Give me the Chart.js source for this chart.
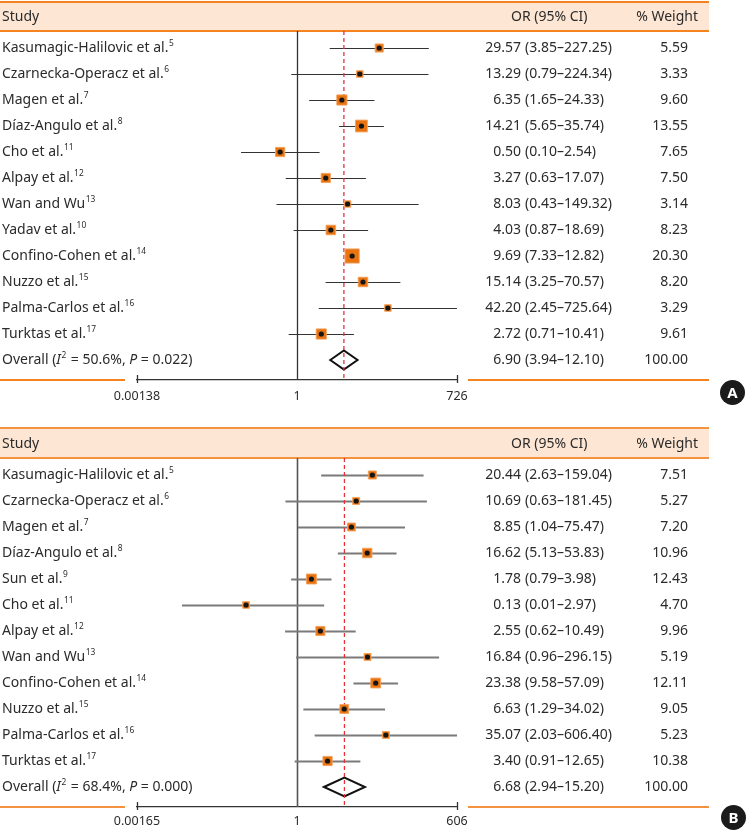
<!DOCTYPE html>
<html>
<head>
<meta charset="utf-8">
<script src="https://cdn.jsdelivr.net/npm/chart.js@4.4.1/dist/chart.umd.min.js"></script>
<style>
  html, body { margin: 0; padding: 0; background: #fff; }
  #wrap { position: relative; width: 747px; height: 833px; overflow: hidden; }
  canvas { position: absolute; left: 0; }
  #chartA { top: 0; }
  #chartB { top: 410px; }
  .badge { position: absolute; width: 25px; height: 25px; border-radius: 50%; background: #1b1b1b; color: #fff;
           font: bold 15px "Noto Sans", sans-serif; text-align: center; line-height: 25px; }
</style>
</head>
<body>
<div id="wrap">
  <canvas id="chartA" width="747" height="410"></canvas>
  <canvas id="chartB" width="747" height="423"></canvas>
  <div class="badge" style="left:720px;top:380px">A</div>
  <div class="badge" style="left:721px;top:805px">B</div>
</div>
<script>
// ---- panel A data ----
const studiesA = ['Kasumagic-Halilovic et al.', 'Czarnecka-Operacz et al.', 'Magen et al.', 'Díaz-Angulo et al.', 'Cho et al.',
  'Alpay et al.', 'Wan and Wu', 'Yadav et al.', 'Confino-Cohen et al.', 'Nuzzo et al.', 'Palma-Carlos et al.', 'Turktas et al.'];
const refsA = ['5', '6', '7', '8', '11', '12', '13', '10', '14', '15', '16', '17'];
const orA = [29.57, 13.29, 6.35, 14.21, 0.50, 3.27, 8.03, 4.03, 9.69, 15.14, 42.20, 2.72];
const loA = [3.85, 0.79, 1.65, 5.65, 0.10, 0.63, 0.43, 0.87, 7.33, 3.25, 2.45, 0.71];
const hiA = [227.25, 224.34, 24.33, 35.74, 2.54, 17.07, 149.32, 18.69, 12.82, 70.57, 725.64, 10.41];
const weightA = [5.59, 3.33, 9.60, 13.55, 7.65, 7.50, 3.14, 8.23, 20.30, 8.20, 3.29, 9.61];
const pooledA = [6.90, 3.94, 12.10, 100.00];
const hetA = ['50.6%', '0.022'];
const ticksA = [0.00138, 1, 726];
const tickLabelsA = ['0.00138', '1', '726'];

// ---- panel B data ----
const studiesB = ['Kasumagic-Halilovic et al.', 'Czarnecka-Operacz et al.', 'Magen et al.', 'Díaz-Angulo et al.', 'Sun et al.',
  'Cho et al.', 'Alpay et al.', 'Wan and Wu', 'Confino-Cohen et al.', 'Nuzzo et al.', 'Palma-Carlos et al.', 'Turktas et al.'];
const refsB = ['5', '6', '7', '8', '9', '11', '12', '13', '14', '15', '16', '17'];
const orB = [20.44, 10.69, 8.85, 16.62, 1.78, 0.13, 2.55, 16.84, 23.38, 6.63, 35.07, 3.40];
const loB = [2.63, 0.63, 1.04, 5.13, 0.79, 0.01, 0.62, 0.96, 9.58, 1.29, 2.03, 0.91];
const hiB = [159.04, 181.45, 75.47, 53.83, 3.98, 2.97, 10.49, 296.15, 57.09, 34.02, 606.40, 12.65];
const weightB = [7.51, 5.27, 7.20, 10.96, 12.43, 4.70, 9.96, 5.19, 12.11, 9.05, 5.23, 10.38];
const pooledB = [6.68, 2.94, 15.20, 100.00];
const hetB = ['68.4%', '0.000'];
const ticksB = [0.00165, 1, 606];
const tickLabelsB = ['0.00165', '1', '606'];

const FONT = '"Noto Sans", sans-serif';
const TEXT = '#2b2b2b';

function drawRich(ctx, x, y, parts, size) {
  parts.forEach(p => {
    const fs = p.sup ? size * 0.6 : size;
    ctx.font = (p.it ? 'italic ' : '') + fs + 'px ' + FONT;
    ctx.fillText(p.t, x, p.sup ? y - size * 0.36 : y);
    x += ctx.measureText(p.t).width + (p.gap || 0);
  });
}

const forestPlugin = {
  id: 'forest',
  beforeDraw(chart, args, o) {
    const { ctx, chartArea } = chart;
    ctx.save();
    ctx.fillStyle = o.band;
    ctx.fillRect(0, o.headerTop, o.bandRight, chartArea.top - o.headerTop);
    ctx.strokeStyle = o.orange;
    ctx.lineWidth = 2;
    ctx.beginPath();
    ctx.moveTo(0, o.headerTop); ctx.lineTo(o.bandRight, o.headerTop);
    ctx.moveTo(0, chartArea.top); ctx.lineTo(o.bandRight, chartArea.top);
    ctx.moveTo(0, chartArea.bottom); ctx.lineTo(chartArea.left - 12, chartArea.bottom);
    ctx.moveTo(chartArea.right + 11, chartArea.bottom); ctx.lineTo(o.bandRight, chartArea.bottom);
    ctx.stroke();
    const hy = (o.headerTop + chartArea.top) / 2 + 1;
    ctx.fillStyle = TEXT;
    ctx.font = '14px ' + FONT;
    ctx.textBaseline = 'middle';
    ctx.textAlign = 'left';
    ctx.fillText('Study', 2, hy);
    ctx.fillText('OR (95% CI)', 511, hy);
    ctx.textAlign = 'right';
    ctx.fillText('% Weight', 698, hy);
    ctx.restore();
  },
  beforeDatasetsDraw(chart, args, o) {
    const { ctx, chartArea, scales: { x, y } } = chart;
    ctx.save();
    // line of no effect
    ctx.strokeStyle = o.nullColor;
    ctx.lineWidth = o.nullWidth;
    const x1 = Math.round(x.getPixelForValue(1)) + 0.5;
    ctx.beginPath();
    ctx.moveTo(x1, chartArea.top); ctx.lineTo(x1, chartArea.bottom);
    ctx.stroke();
    // whiskers
    ctx.strokeStyle = o.ciColor;
    ctx.lineWidth = o.ciWidth;
    o.lo.forEach((lo, i) => {
      const yy = Math.round(y.getPixelForValue(i)) + 0.5;
      ctx.beginPath();
      ctx.moveTo(x.getPixelForValue(lo), yy);
      ctx.lineTo(x.getPixelForValue(o.hi[i]), yy);
      ctx.stroke();
    });
    // pooled diamond
    const yd = y.getPixelForValue(o.lo.length);
    const [por, plo, phi] = o.pooled;
    ctx.strokeStyle = '#111';
    ctx.lineWidth = 2;
    ctx.beginPath();
    ctx.moveTo(x.getPixelForValue(plo), yd);
    ctx.lineTo(x.getPixelForValue(por), yd - 9.5);
    ctx.lineTo(x.getPixelForValue(phi), yd);
    ctx.lineTo(x.getPixelForValue(por), yd + 9.5);
    ctx.closePath();
    ctx.stroke();
    // pooled estimate line
    const xp = x.getPixelForValue(por);
    ctx.strokeStyle = '#e5323d';
    ctx.lineWidth = 1.3;
    ctx.setLineDash([4, 3]);
    ctx.beginPath();
    ctx.moveTo(xp, chartArea.top); ctx.lineTo(xp, chartArea.bottom);
    ctx.stroke();
    ctx.restore();
  },
  afterDatasetsDraw(chart, args, o) {
    const { ctx, chartArea, scales: { x, y } } = chart;
    ctx.save();
    // end ticks on the axis
    ctx.strokeStyle = '#333';
    ctx.lineWidth = 1.3;
    [x.min, x.max].forEach(v => {
      const xx = Math.round(x.getPixelForValue(v)) + 0.5;
      ctx.beginPath();
      ctx.moveTo(xx, chartArea.bottom - 5); ctx.lineTo(xx, chartArea.bottom + 3);
      ctx.stroke();
    });
    // text columns
    ctx.fillStyle = TEXT;
    ctx.textBaseline = 'middle';
    const rows = o.names.map((nm, i) => ({
      label: [{ t: nm, gap: 0.5 }, { t: o.refs[i], sup: true }],
      or: o.or[i], lo: o.lo[i], hi: o.hi[i], w: o.weight[i]
    }));
    rows.push({
      label: [{ t: 'Overall (' }, { t: 'I', it: true, gap: 0.5 }, { t: '2', sup: true, gap: 1 }, { t: ' = ' + o.het[0] + ', ' },
              { t: 'P', it: true }, { t: ' = ' + o.het[1] + ')' }],
      or: o.pooled[0], lo: o.pooled[1], hi: o.pooled[2], w: o.pooled[3]
    });
    rows.forEach((r, i) => {
      const yy = y.getPixelForValue(i) + 0.5;
      ctx.textAlign = 'left';
      drawRich(ctx, 2, yy, r.label, 14);
      ctx.font = '14px ' + FONT;
      ctx.textAlign = 'right';
      ctx.fillText(r.or.toFixed(2), 521, yy);
      ctx.fillText(r.w.toFixed(2), 688, yy);
      ctx.textAlign = 'left';
      ctx.fillText('(' + r.lo.toFixed(2) + '–' + r.hi.toFixed(2) + ')', 525, yy);
    });
    ctx.restore();
  }
};

function boxRadius(w, k) {
  return (k * Math.sqrt(w) + 1.5) / Math.SQRT2;
}

function makeForest(id, cfg) {
  const pts = cfg.or.map((v, i) => ({ x: v, y: i }));
  return new Chart(document.getElementById(id), {
    type: 'scatter',
    data: {
      datasets: [
        // lower order draws on top, so the black point sits over the weight box
        { label: 'OR', data: pts, order: 0, pointStyle: 'circle', pointRadius: 2.6, backgroundColor: '#151515', borderWidth: 0 },
        { label: 'Weight', data: pts, order: 1, pointStyle: 'rect', pointRadius: cfg.weight.map(w => boxRadius(w, cfg.boxK)),
          backgroundColor: '#e8730f', borderColor: 'rgba(244,160,90,0.9)', borderWidth: 1 }
      ]
    },
    options: {
      responsive: false,
      animation: false,
      devicePixelRatio: 1,
      events: [],
      layout: { padding: { left: 137, right: 290, top: cfg.top, bottom: cfg.bottom } },
      scales: {
        x: {
          type: 'logarithmic',
          min: cfg.ticks[0],
          max: cfg.ticks[cfg.ticks.length - 1],
          afterBuildTicks: axis => { axis.ticks = cfg.ticks.map(v => ({ value: v })); },
          afterFit: axis => { axis.height = 20; },
          grid: { display: false, drawTicks: false },
          border: { display: true, color: '#333', width: 1.3 },
          ticks: {
            autoSkip: false, maxRotation: 0, padding: cfg.tickPad, color: TEXT,
            font: { family: FONT, size: 12.5 },
            callback: (v, i) => cfg.tickLabels[i]
          }
        },
        y: { type: 'linear', reverse: true, min: -17 / 26, max: 12 + 20 / 26, display: false }
      },
      plugins: {
        legend: { display: false },
        tooltip: { enabled: false },
        forest: {
          names: cfg.names, refs: cfg.refs, or: cfg.or, lo: cfg.lo, hi: cfg.hi, weight: cfg.weight,
          pooled: cfg.pooled, het: cfg.het,
          headerTop: cfg.headerTop, bandRight: 709, band: '#fde6d3', orange: cfg.orange,
          ciColor: cfg.ciColor, ciWidth: cfg.ciWidth, nullColor: cfg.nullColor, nullWidth: cfg.nullWidth
        }
      }
    },
    plugins: [forestPlugin]
  });
}

makeForest('chartA', {
  names: studiesA, refs: refsA, or: orA, lo: loA, hi: hiA, weight: weightA, pooled: pooledA, het: hetA,
  ticks: ticksA, tickLabels: tickLabelsA,
  top: 31, bottom: 10, headerTop: 2, tickPad: 9, boxK: 2.8,
  orange: '#f5831f', ciColor: '#333', ciWidth: 1.2, nullColor: '#333', nullWidth: 1.3
});

makeForest('chartB', {
  names: studiesB, refs: refsB, or: orB, lo: loB, hi: hiB, weight: weightB, pooled: pooledB, het: hetB,
  ticks: ticksB, tickLabels: tickLabelsB,
  top: 48, bottom: 6, headerTop: 18, tickPad: 7, boxK: 2.4,
  orange: '#f39340', ciColor: '#7a7a7a', ciWidth: 2, nullColor: '#555', nullWidth: 1.6
});
</script>
</body>
</html>
